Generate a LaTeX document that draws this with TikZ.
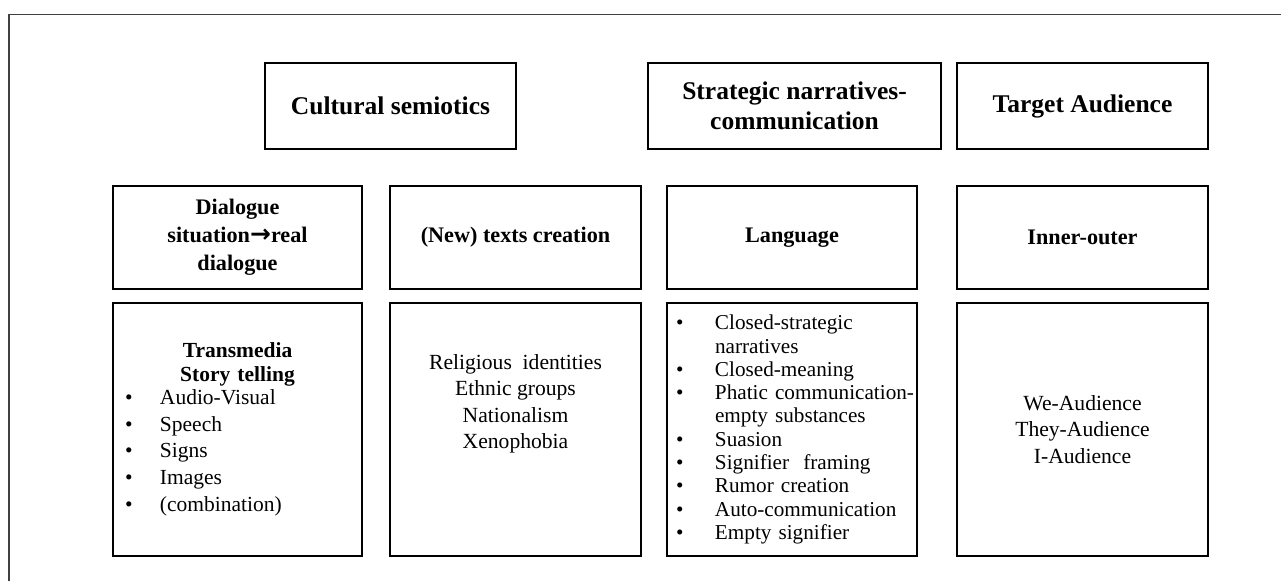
\documentclass[tikz,border=0pt]{standalone}
\usepackage{fontspec}
\setmainfont{Liberation Serif}
\newfontfamily\arrowfont{DejaVu Sans}
\setlength{\parindent}{0pt}
\begin{document}
\begin{tikzpicture}[x=1pt,y=-1pt,
  frame/.style={draw=black!75, line width=1.4pt},
  box/.style={draw=black, line width=1.3pt, inner sep=0pt, anchor=center},
  headfont/.style={font=\fontsize{25.5}{29.5}\selectfont\bfseries, align=center},
  midfont/.style={font=\fontsize{22.2}{28}\selectfont\bfseries, align=center},
  bodyfont/.style={font=\fontsize{21.6}{26.6}\selectfont, align=center},
  listfont/.style={font=\fontsize{21.5}{23.3}\selectfont, align=left},
  langfont/.style={font=\fontsize{21.2}{23.3}\selectfont, align=left},
  topbox/.style={box, minimum height=86pt},
  midbox/.style={box, minimum height=103pt},
  lowbox/.style={box, minimum height=253pt}]
\useasboundingbox (0,0) rectangle (1281,581);

% page frame
\coordinate (fa) at (9,14.5);
\coordinate (fb) at (1281,14.5);
\coordinate (fc) at (9,581);
\draw[frame] (fc) -- (fa) -- (fb);

% top row
\node[topbox, headfont, minimum width=251pt] (cs) at (390.5,106) {Cultural semiotics};
\node[topbox, headfont, minimum width=293pt] (sn) at (794.5,106) {Strategic narratives-\\communication};
\node[topbox, headfont, minimum width=251pt] (ta) at (1082.5,106) {Target Audience};

% middle row
\node[midbox, midfont, minimum width=249pt] (dl) at (237.5,237.5) {Dialogue\\situation{\arrowfont\bfseries\fontsize{25}{25}\selectfont→}real\\dialogue};
\node[midbox, midfont, minimum width=251pt] (nt) at (515.5,237.5) {(New) texts creation};
\node[midbox, midfont, minimum width=250pt] (lg) at (792,237.5) {Language};
\node[midbox, midfont, minimum width=251pt] (io) at (1082.5,237.5) {Inner-outer};

% bottom row
\node[lowbox, minimum width=249pt, listfont, text width=249pt] (tm) at (237.5,429.5) {%
  \makebox[249pt][c]{\bfseries Transmedia}\\
  \makebox[249pt][c]{\bfseries Story telling}\\
  \hspace*{12pt}\makebox[35pt][l]{•}Audio-Visual\\[3.5pt]
  \hspace*{12pt}\makebox[35pt][l]{•}Speech\\[3.5pt]
  \hspace*{12pt}\makebox[35pt][l]{•}Signs\\[3.5pt]
  \hspace*{12pt}\makebox[35pt][l]{•}Images\\[3.5pt]
  \hspace*{12pt}\makebox[35pt][l]{•}(combination)};
\node[lowbox, minimum width=251pt] (ntl) at (515.5,429.5) {};
\node[bodyfont, inner sep=0pt, anchor=north] (ntt) at (515.5,354) {Religious\ \ identities\\Ethnic groups\\Nationalism\\Xenophobia};
\node[lowbox, minimum width=250pt, langfont, text width=250pt] (lgl) at (792,429.5) {%
  \hspace*{9pt}\makebox[39pt][l]{•}Closed-strategic\\
  \hspace*{48pt}narratives\\
  \hspace*{9pt}\makebox[39pt][l]{•}Closed-meaning\\
  \hspace*{9pt}\makebox[39pt][l]{•}Phatic communication-\\
  \hspace*{48pt}empty substances\\
  \hspace*{9pt}\makebox[39pt][l]{•}Suasion\\
  \hspace*{9pt}\makebox[39pt][l]{•}Signifier\ \ framing\\
  \hspace*{9pt}\makebox[39pt][l]{•}Rumor creation\\
  \hspace*{9pt}\makebox[39pt][l]{•}Auto-communication\\
  \hspace*{9pt}\makebox[39pt][l]{•}Empty signifier};
\node[lowbox, minimum width=251pt, bodyfont] (iol) at (1082.5,429.5) {We-Audience\\They-Audience\\I-Audience};
\end{tikzpicture}
\end{document}
